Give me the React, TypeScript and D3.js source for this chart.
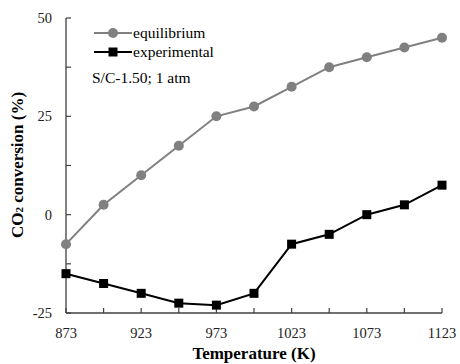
import React, { useEffect, useRef } from 'react';
import * as d3 from 'd3';

const temps = [873, 898, 923, 948, 973, 998, 1023, 1048, 1073, 1098, 1123];
const equilibrium = [-7.5, 2.5, 10, 17.5, 25, 27.5, 32.5, 37.5, 40, 42.5, 45];
const experimental = [-15, -17.5, -20, -22.5, -23, -20, -7.5, -5, 0, 2.5, 7.5];
const xTickLabels = [873, 923, 973, 1023, 1073, 1123];
const yTickLabels = [-25, 0, 25, 50];

const width = 460;
const height = 364;
const font = '"Liberation Serif", "Times New Roman", serif';

export default function App() {
  const ref = useRef<SVGSVGElement>(null);

  useEffect(() => {
    const svg = d3.select(ref.current);
    svg.selectAll('*').remove();

    const x = d3.scaleLinear().domain([873, 1123]).range([66, 442]);
    const y = d3.scaleLinear().domain([-25, 50]).range([313, 18]);
    const axisColor = '#404040';

    // axes lines
    svg.append('line').attr('x1', x(873)).attr('x2', x(873)).attr('y1', y(50)).attr('y2', y(-25))
      .attr('stroke', axisColor).attr('stroke-width', 1.3);
    svg.append('line').attr('x1', x(873)).attr('x2', x(1123)).attr('y1', y(-25)).attr('y2', y(-25))
      .attr('stroke', axisColor).attr('stroke-width', 1.3);

    // inward ticks
    svg.selectAll('.yt').data(d3.range(-25, 50.1, 12.5)).enter().append('line')
      .attr('x1', x(873)).attr('x2', x(873) + 5)
      .attr('y1', d => y(d)).attr('y2', d => y(d))
      .attr('stroke', axisColor).attr('stroke-width', 1.2);
    svg.selectAll('.xt').data(temps).enter().append('line')
      .attr('x1', d => x(d)).attr('x2', d => x(d))
      .attr('y1', y(-25)).attr('y2', y(-25) - 5)
      .attr('stroke', axisColor).attr('stroke-width', 1.2);

    // tick labels
    svg.selectAll('.yl').data(yTickLabels).enter().append('text')
      .attr('x', 52).attr('y', d => y(d) + 5)
      .attr('text-anchor', 'end').style('font-family', font).style('font-size', '14.5px')
      .attr('fill', '#222').text(d => d);
    svg.selectAll('.xl').data(xTickLabels).enter().append('text')
      .attr('x', d => x(d)).attr('y', 338)
      .attr('text-anchor', 'middle').style('font-family', font).style('font-size', '14.5px')
      .attr('fill', '#222').text(d => d);

    // axis titles
    svg.append('text').attr('x', 254).attr('y', 359).attr('text-anchor', 'middle')
      .style('font-family', font).style('font-size', '17px').style('font-weight', 'bold')
      .text('Temperature (K)');
    const yt = svg.append('text').attr('transform', 'translate(23,165) rotate(-90)')
      .attr('text-anchor', 'middle')
      .style('font-family', font).style('font-size', '17px').style('font-weight', 'bold');
    yt.append('tspan').text('CO');
    yt.append('tspan').text('2').style('font-size', '11px');
    yt.append('tspan').text(' conversion (%)');

    const line = d3.line<number>().x((_, i) => x(temps[i])).y(d => y(d));

    // equilibrium
    svg.append('path').datum(equilibrium).attr('d', line).attr('fill', 'none')
      .attr('stroke', '#808080').attr('stroke-width', 2);
    svg.selectAll('.eq').data(equilibrium).enter().append('circle')
      .attr('cx', (_, i) => x(temps[i])).attr('cy', d => y(d)).attr('r', 5)
      .attr('fill', '#808080');

    // experimental
    svg.append('path').datum(experimental).attr('d', line).attr('fill', 'none')
      .attr('stroke', '#000').attr('stroke-width', 2);
    svg.selectAll('.ex').data(experimental).enter().append('rect')
      .attr('x', (_, i) => x(temps[i]) - 4.5).attr('y', d => y(d) - 4.5)
      .attr('width', 9).attr('height', 9).attr('fill', '#000');

    // legend
    const lg = svg.append('g');
    lg.append('line').attr('x1', 94).attr('x2', 132).attr('y1', 33).attr('y2', 33)
      .attr('stroke', '#808080').attr('stroke-width', 2);
    lg.append('circle').attr('cx', 113).attr('cy', 33).attr('r', 5).attr('fill', '#808080');
    lg.append('text').attr('x', 133).attr('y', 38).style('font-family', font)
      .style('font-size', '15.5px').text('equilibrium');
    lg.append('line').attr('x1', 94).attr('x2', 132).attr('y1', 52).attr('y2', 52)
      .attr('stroke', '#000').attr('stroke-width', 2);
    lg.append('rect').attr('x', 108.5).attr('y', 47.5).attr('width', 9).attr('height', 9).attr('fill', '#000');
    lg.append('text').attr('x', 133).attr('y', 57).style('font-family', font)
      .style('font-size', '15.5px').text('experimental');
    lg.append('text').attr('x', 92).attr('y', 83).style('font-family', font)
      .style('font-size', '15.5px').text('S/C-1.50; 1 atm');
  }, []);

  return (
    <svg ref={ref} width={width} height={height}
      style={{ position: 'absolute', left: 0, top: 0, background: '#fff' }} />
  );
}
